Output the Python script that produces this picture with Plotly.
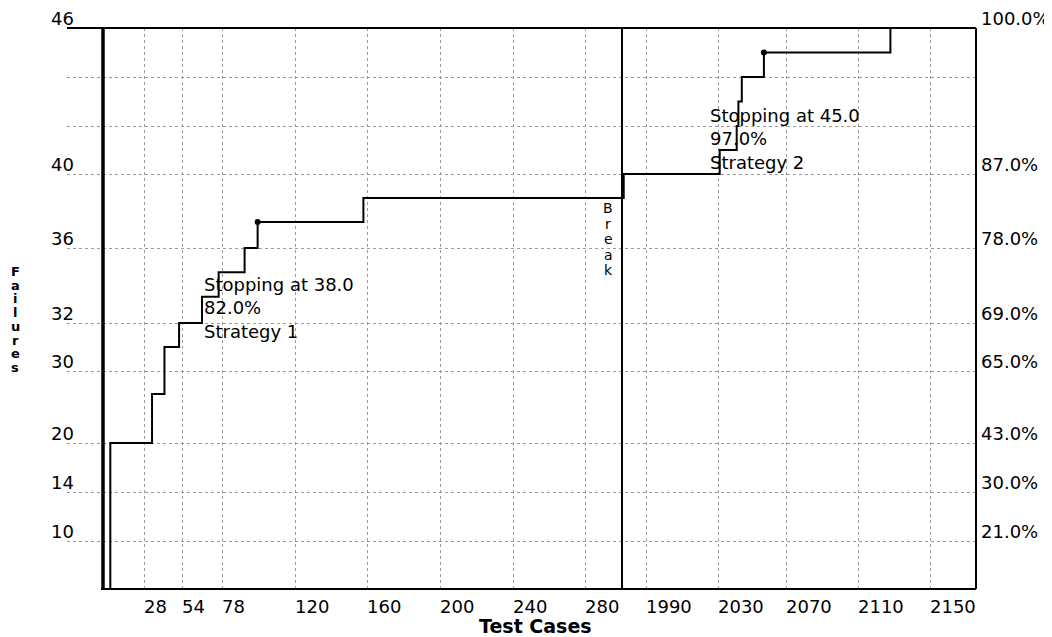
import numpy as np
import plotly.graph_objects as go

# ---------------- data ----------------
TEST_CASES = [5, 5, 33.5, 42, 52, 66, 76, 91, 98.5, 158, 1977, 2031, 2041, 2042, 2044, 2057, 2128]
FAILURES = [0, 20, 26.8, 31, 32, 33.4, 34.7, 36, 37.4, 38.7, 40, 41, 42, 43, 44, 45, 46]

STOP_TEST = [98.5, 2057]
STOP_FAIL = [37.4, 45]
STOP_AT = [38.0, 45.0]
STOP_PCT = [82.0, 97.0]
STOP_STRATEGY = ["Strategy 1", "Strategy 2"]

X_TICKS = [28, 54, 78, 120, 160, 200, 240, 280, 1990, 2030, 2070, 2110, 2150]
Y_TICKS = [10, 14, 20, 30, 32, 36, 40, 42, 44, 46]
Y_TICK_LABELS = ["10", "14", "20", "30", "32", "36", "40", "", "", "46"]
PCT_TICK_LABELS = ["21.0%", "30.0%", "43.0%", "65.0%", "69.0%", "78.0%", "87.0%", "", "", "100.0%"]

BREAK_LEFT = 300     # last test case shown before the axis break
BREAK_RIGHT = 1976   # first test case shown after the axis break

# ------------- custom (non-linear, broken) axis scales -------------
X_SCALE_VALUES = [0, 28, 54, 78, 120, 160, 200, 240, 280, BREAK_LEFT, BREAK_RIGHT,
                  1990, 2030, 2070, 2110, 2150, 2176]
X_SCALE_SCREEN = [36, 77, 115, 155, 228, 300, 373, 446, 518, 555, 555,
                  579, 651, 719, 791, 863, 909]
X_RANGE = [0, 909]

Y_SCALE_VALUES = [0, 10, 14, 20, 30, 32, 36, 40, 42, 44, 46]
Y_SCALE_SCREEN = [0, 48, 97, 146, 218, 266, 341, 415, 463, 512, 561]
Y_RANGE = [0, 561]


def xs(v):
    return np.interp(np.asarray(v, dtype=float), X_SCALE_VALUES, X_SCALE_SCREEN)


def ys(v):
    return np.interp(np.asarray(v, dtype=float), Y_SCALE_VALUES, Y_SCALE_SCREEN)


FONT = "DejaVu Sans"
GRID = "#9a9a9a"

fig = go.Figure()

# step curve
fig.add_trace(go.Scatter(
    x=xs(TEST_CASES), y=ys(FAILURES), mode="lines", line_shape="hv",
    line=dict(color="black", width=2), hoverinfo="skip", showlegend=False))

# stopping points
fig.add_trace(go.Scatter(
    x=xs(STOP_TEST), y=ys(STOP_FAIL), mode="markers",
    marker=dict(color="black", size=6, symbol="circle"),
    hoverinfo="skip", showlegend=False))

# invisible trace to drive the right-hand percentage axis
fig.add_trace(go.Scatter(
    x=xs(TEST_CASES), y=ys(FAILURES), yaxis="y2", mode="lines",
    line=dict(color="rgba(0,0,0,0)", width=0), hoverinfo="skip", showlegend=False))

tickfont = dict(family=FONT, size=18, color="black")

# the page adds an 8px body margin, so the figure is 8px smaller than the window
fig.update_layout(
    width=1044, height=629,
    margin=dict(l=59, r=76, t=20, b=48, pad=0, autoexpand=False),
    paper_bgcolor="white", plot_bgcolor="white",
    xaxis=dict(range=X_RANGE, tickvals=xs(X_TICKS), ticktext=[str(t) for t in X_TICKS],
               showgrid=True, gridcolor=GRID, griddash="dot", gridwidth=1,
               zeroline=False, showline=False, ticks="", automargin=False,
               ticklabelposition="outside right", ticklabelstandoff=5,
               ticklabeloverflow="allow", tickfont=tickfont, fixedrange=True),
    yaxis=dict(range=Y_RANGE, tickvals=ys(Y_TICKS), ticktext=Y_TICK_LABELS,
               showgrid=True, gridcolor=GRID, griddash="dot", gridwidth=1,
               zeroline=False, showline=False, ticks="", automargin=False,
               ticklabelposition="outside top", ticklabelstandoff=-8, ticklabelshift=3,
               ticklabeloverflow="allow", tickfont=tickfont, fixedrange=True),
    yaxis2=dict(range=Y_RANGE, tickvals=ys(Y_TICKS), ticktext=PCT_TICK_LABELS,
                overlaying="y", side="right", showgrid=False, zeroline=False,
                showline=False, ticks="", ticklabelposition="outside top", automargin=False,
                ticklabelstandoff=4, ticklabelshift=3, ticklabeloverflow="allow",
                tickfont=tickfont, fixedrange=True),
)

# frame and axis lines
shapes = [
    dict(type="line", xref="paper", yref="paper", x0=0, x1=1, y0=1, y1=1,
         line=dict(color="black", width=2)),
    dict(type="line", xref="paper", yref="paper", x0=1, x1=1, y0=0, y1=1,
         line=dict(color="black", width=2)),
    dict(type="line", xref="x", yref="paper", x0=float(xs(0)) - 2, x1=X_RANGE[1], y0=0, y1=0,
         line=dict(color="black", width=2)),
    dict(type="line", xref="x", yref="paper", x0=float(xs(0)), x1=float(xs(0)), y0=0, y1=1,
         line=dict(color="black", width=3.5)),
    dict(type="line", xref="x", yref="paper", x0=float(xs(BREAK_LEFT)), x1=float(xs(BREAK_LEFT)),
         y0=0, y1=1, line=dict(color="black", width=2)),
]
fig.update_layout(shapes=shapes)

annotations = []
# stopping labels
for tx, fy, at, pct, strat in zip(STOP_TEST, STOP_FAIL, STOP_AT, STOP_PCT, STOP_STRATEGY):
    annotations.append(dict(
        x=float(xs(tx)), y=float(ys(fy)), xref="x", yref="y",
        text=f"Stopping at {at:.1f}<br>{pct:.1f}%<br>{strat}",
        showarrow=False, xanchor="left", yanchor="top", align="left",
        xshift=-56, yshift=-50, font=dict(family=FONT, size=18, color="black")))

# "Break" label (stacked letters)
for i, ch in enumerate("Break"):
    annotations.append(dict(
        x=float(xs(BREAK_LEFT)), y=float(Y_RANGE[1] - (208 - 28) - 15.5 * i), xref="x", yref="y",
        text=ch, showarrow=False, xanchor="center", yanchor="middle", xshift=-14,
        borderpad=0, font=dict(family=FONT, size=14, color="black")))

# y-axis title (stacked letters)
for i, ch in enumerate("Failures"):
    annotations.append(dict(
        x=-52 / 909, y=(589 - (271.5 + 13.7 * i)) / 561, xref="paper", yref="paper",
        text=ch, showarrow=False, xanchor="center", yanchor="middle", borderpad=0,
        font=dict(family=FONT, size=13, color="black", weight="bold")))

# x-axis title
annotations.append(dict(
    x=(535 - 67) / 909, y=(589 - 626) / 561, xref="paper", yref="paper",
    text="Test Cases", showarrow=False, xanchor="center", yanchor="middle",
    font=dict(family=FONT, size=19, color="black", weight="bold")))

fig.update_layout(annotations=annotations)

fig.write_html("out.html")
